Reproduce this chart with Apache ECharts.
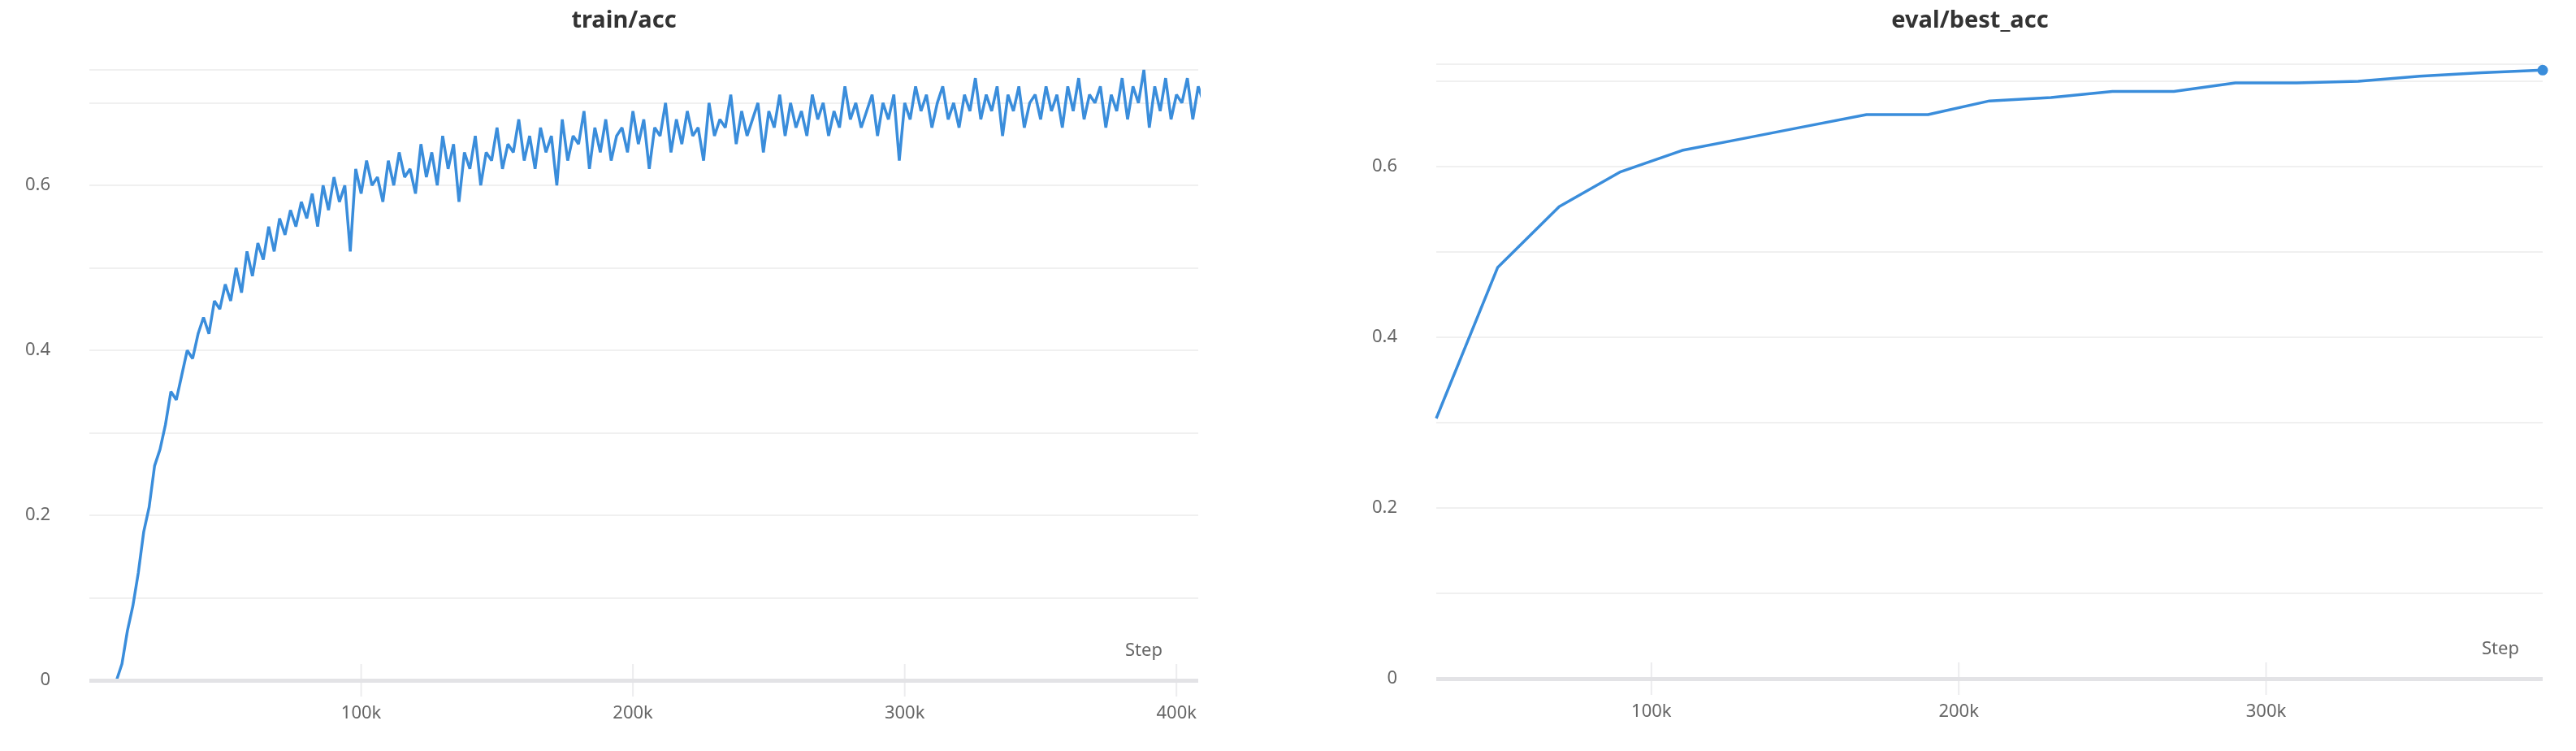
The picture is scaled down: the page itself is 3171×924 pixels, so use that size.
<!DOCTYPE html><html><head><meta charset="utf-8">
<script src="https://cdn.jsdelivr.net/npm/echarts@6/dist/echarts.min.js"></script>
<style>html,body{margin:0;background:#fff}#c{width:3171px;height:924px}</style></head><body><div id="c"></div>
<script>
const trainStepSize = 2000;
const trainAcc = [0,0,0,0,0,0,0.02,0.06,0.09,0.13,0.18,0.21,0.26,0.28,0.31,0.35,0.34,0.37,0.40,0.39,0.42,0.44,0.42,0.46,0.45,0.48,0.46,0.50,0.47,0.52,0.49,0.53,0.51,0.55,0.52,0.56,0.54,0.57,0.55,0.58,0.56,0.59,0.55,0.60,0.57,0.61,0.58,0.60,0.52,0.62,0.59,0.63,0.60,0.61,0.58,0.63,0.60,0.64,0.61,0.62,0.59,0.65,0.61,0.64,0.60,0.66,0.62,0.65,0.58,0.64,0.62,0.66,0.60,0.64,0.63,0.67,0.62,0.65,0.64,0.68,0.63,0.66,0.62,0.67,0.64,0.66,0.60,0.68,0.63,0.66,0.65,0.69,0.62,0.67,0.64,0.68,0.63,0.66,0.67,0.64,0.69,0.65,0.68,0.62,0.67,0.66,0.70,0.64,0.68,0.65,0.69,0.66,0.67,0.63,0.70,0.66,0.68,0.67,0.71,0.65,0.69,0.66,0.68,0.70,0.64,0.69,0.67,0.71,0.66,0.70,0.67,0.69,0.66,0.71,0.68,0.70,0.66,0.69,0.67,0.72,0.68,0.70,0.67,0.69,0.71,0.66,0.70,0.68,0.71,0.63,0.70,0.68,0.72,0.69,0.71,0.67,0.70,0.72,0.68,0.70,0.67,0.71,0.69,0.73,0.68,0.71,0.69,0.72,0.66,0.71,0.69,0.72,0.67,0.70,0.71,0.68,0.72,0.69,0.71,0.67,0.72,0.69,0.73,0.68,0.71,0.70,0.72,0.67,0.71,0.69,0.73,0.68,0.72,0.70,0.74,0.67,0.72,0.69,0.73,0.68,0.71,0.70,0.73,0.68,0.72,0.70];
const evalSteps = [30000,50000,70000,90000,110000,130000,150000,170000,190000,210000,230000,250000,270000,290000,310000,330000,350000,370000,390000];
const evalBestAcc = [0.305,0.482,0.553,0.594,0.619,0.633,0.647,0.661,0.661,0.677,0.681,0.688,0.688,0.698,0.698,0.700,0.706,0.710,0.713];
const yTicks = [0,0.2,0.4,0.6];
const trainXTicks = [100000,200000,300000,400000];
const evalXTicks = [100000,200000,300000];
const titles = ['train/acc','eval/best_acc'];

const font = '"Noto Sans", "Open Sans", sans-serif';
const blue = '#3a8ddb';
const trainData = trainAcc.map((v,i)=>[i*trainStepSize,v]);
const evalData = evalSteps.map((s,i)=>({value:[s,evalBestAcc[i]],symbolSize:i===evalSteps.length-1?13:0}));
function xAxis(idx,min,max,ticks){return {gridIndex:idx,type:'value',min,max,
  axisLine:{show:false},axisTick:{show:false},splitLine:{show:false},
  axisLabel:{color:'#666',fontFamily:font,fontSize:22,margin:30,customValues:ticks,
    formatter:v=>(v/1000)+'k'}};}
function yAxis(idx,max){return {gridIndex:idx,type:'value',min:0,max,
  axisLine:{show:false},axisTick:{show:false},
  splitLine:{lineStyle:{color:'#f0f0f0',width:2}},
  axisLabel:{color:'#666',fontFamily:font,fontSize:22,margin:48,customValues:yTicks,formatter:v=>String(v)}};}
const chart = echarts.init(document.getElementById('c'));
chart.setOption({
  animation:false,
  title:[
    {text:titles[0],left:763,top:6,textAlign:'center',textStyle:{fontFamily:font,fontSize:29,fontWeight:'bold',color:'#333'}},
    {text:titles[1],left:2420,top:6,textAlign:'center',textStyle:{fontFamily:font,fontSize:29,fontWeight:'bold',color:'#333'}}
  ],
  grid:[{left:110,right:1696,top:86,bottom:87},{left:1768,right:41,top:79,bottom:89}],
  xAxis:[xAxis(0,0,408000,trainXTicks),xAxis(1,30000,390000,evalXTicks)],
  yAxis:[yAxis(0,0.74),yAxis(1,0.72)],
  series:[
    {type:'line',xAxisIndex:0,yAxisIndex:0,data:trainData,showSymbol:false,lineStyle:{color:blue,width:3.5},z:3},
    {type:'line',xAxisIndex:1,yAxisIndex:1,data:evalData,symbol:'circle',showSymbol:true,
      itemStyle:{color:blue},lineStyle:{color:blue,width:3.5},z:3},
    {type:'line',xAxisIndex:0,yAxisIndex:0,data:[],markLine:{silent:true,symbol:'none',label:{show:false},
      lineStyle:{color:'#e3e3e6',width:5,type:'solid'},data:[[{coord:[0,0]},{coord:[408000,0]}]]},z:1},
    {type:'line',xAxisIndex:1,yAxisIndex:1,data:[],markLine:{silent:true,symbol:'none',label:{show:false},
      lineStyle:{color:'#e3e3e6',width:5,type:'solid'},data:[[{coord:[30000,0]},{coord:[390000,0]}]]},z:1}
  ]
});
const g=[];
[[0,trainXTicks],[1,evalXTicks]].forEach(([gi,ts])=>ts.forEach(t=>{
  const p=chart.convertToPixel({gridIndex:gi},[t,0]);
  g.push({type:'line',shape:{x1:p[0],y1:p[1]-20,x2:p[0],y2:p[1]+20},style:{stroke:'#ececee',lineWidth:2},z:0});
}));
g.push({type:'text',left:1385,top:790,style:{text:'Step',font:'22px '+font,fill:'#666'}});
g.push({type:'text',left:3055,top:788,style:{text:'Step',font:'22px '+font,fill:'#666'}});
chart.setOption({graphic:g});
</script></body></html>
